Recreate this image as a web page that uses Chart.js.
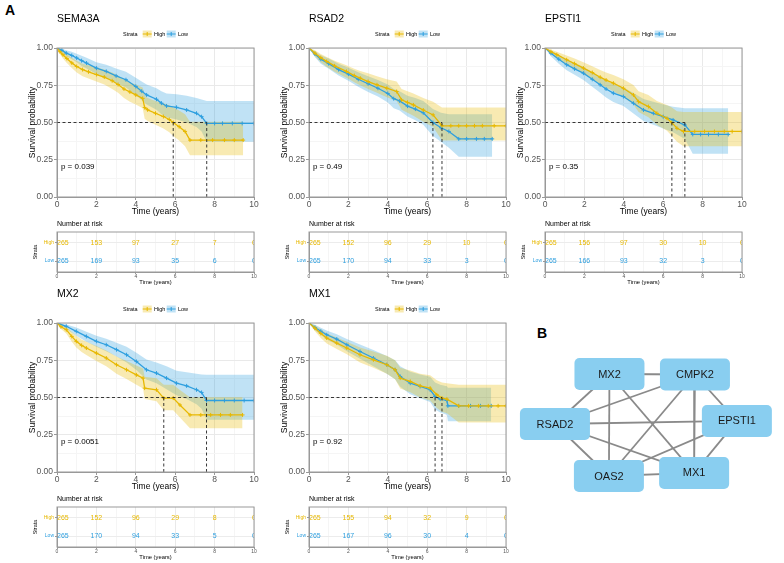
<!DOCTYPE html>
<html>
<head>
<meta charset="utf-8">
<script src="https://cdn.jsdelivr.net/npm/chart.js@4.4.0/dist/chart.umd.min.js"></script>
<style>
  body { margin: 0; width: 784px; height: 563px; background: #fff; position: relative; overflow: hidden;
         font-family: "Liberation Sans", Arial, sans-serif; }
  canvas { position: absolute; }
  .tag { position: absolute; font-weight: bold; font-size: 14px; line-height: 16px; color: #000; }
</style>
</head>
<body>
<div class="tag" style="left:5px;top:2px">A</div>
<div class="tag" style="left:537px;top:325px">B</div>
<script>
// Survival curves: rows are [time, survival, lower CI, upper CI]
const sema3aHigh = [[0,1,1,1],[0.15,0.975,0.96,0.99],[0.3,0.955,0.93,0.98],[0.5,0.93,0.9,0.96],[0.75,0.9,0.865,0.935],
  [1.0,0.876,0.835,0.915],[1.3,0.855,0.81,0.895],[1.6,0.84,0.795,0.885],[2.0,0.822,0.775,0.87],[2.4,0.805,0.755,0.855],
  [2.8,0.78,0.725,0.835],[3.1,0.755,0.7,0.815],[3.4,0.725,0.665,0.79],[3.7,0.705,0.64,0.77],[4.0,0.685,0.62,0.755],
  [4.35,0.662,0.595,0.735],[4.45,0.6,0.525,0.68],[4.6,0.585,0.51,0.665],[5.0,0.562,0.485,0.645],[5.4,0.54,0.46,0.63],
  [5.7,0.52,0.435,0.615],[5.9,0.5,0.41,0.6],[6.2,0.472,0.38,0.58],[6.5,0.44,0.34,0.555],[6.75,0.382,0.28,0.505],
  [7.3,0.382,0.28,0.505],[7.9,0.382,0.28,0.505],[8.5,0.382,0.28,0.505],[9.0,0.382,0.28,0.505],[9.45,0.382,0.28,0.505]];
const sema3aLow = [[0,1,1,1],[0.25,0.985,0.97,0.995],[0.47,0.966,0.945,0.985],[0.75,0.95,0.925,0.975],[1.0,0.933,0.905,0.962],
  [1.25,0.915,0.88,0.948],[1.5,0.899,0.862,0.935],[2.0,0.865,0.825,0.905],[2.5,0.843,0.8,0.887],[3.0,0.813,0.765,0.862],
  [3.5,0.787,0.735,0.84],[4.0,0.742,0.685,0.8],[4.3,0.71,0.65,0.775],[4.55,0.685,0.62,0.755],[5.05,0.656,0.585,0.73],
  [5.3,0.63,0.555,0.71],[5.56,0.611,0.535,0.695],[6.07,0.602,0.52,0.69],[6.58,0.584,0.5,0.68],[7.08,0.562,0.47,0.665],
  [7.34,0.539,0.44,0.655],[7.6,0.494,0.37,0.645],[8.0,0.494,0.37,0.645],[8.4,0.494,0.37,0.645],[8.9,0.494,0.37,0.645],
  [9.4,0.494,0.37,0.645],[10,0.494,0.37,0.645]];

const rsad2High = [[0,1,1,1],[0.3,0.965,0.945,0.985],[0.6,0.935,0.905,0.96],[0.9,0.91,0.875,0.94],[1.3,0.88,0.84,0.915],
  [1.9,0.843,0.8,0.885],[2.3,0.815,0.77,0.86],[2.6,0.798,0.75,0.845],[3.0,0.775,0.725,0.83],[3.45,0.753,0.7,0.81],
  [3.95,0.73,0.67,0.79],[4.45,0.708,0.645,0.775],[4.7,0.652,0.585,0.725],[5.0,0.635,0.565,0.71],[5.3,0.618,0.545,0.695],
  [5.8,0.584,0.505,0.665],[6.3,0.551,0.47,0.64],[6.75,0.478,0.38,0.6],[7.2,0.478,0.38,0.6],[7.6,0.478,0.38,0.6],
  [8.0,0.478,0.38,0.6],[8.4,0.478,0.38,0.6],[8.8,0.478,0.38,0.6],[9.4,0.478,0.38,0.6],[10,0.478,0.38,0.6]];
const rsad2Low = [[0,1,1,1],[0.3,0.96,0.94,0.98],[0.6,0.925,0.895,0.952],[1.0,0.895,0.86,0.93],[1.5,0.855,0.815,0.895],
  [2.0,0.825,0.78,0.867],[2.5,0.79,0.74,0.838],[3.0,0.76,0.705,0.81],[3.5,0.73,0.675,0.785],[4.0,0.695,0.635,0.755],
  [4.3,0.66,0.595,0.725],[4.6,0.645,0.58,0.71],[5.0,0.61,0.54,0.68],[5.4,0.59,0.515,0.665],[5.8,0.565,0.485,0.645],
  [6.29,0.5,0.41,0.59],[6.7,0.465,0.37,0.565],[7.1,0.44,0.33,0.555],[7.6,0.39,0.27,0.555],[8.0,0.39,0.27,0.555],
  [8.5,0.39,0.27,0.555],[8.9,0.39,0.27,0.555],[9.3,0.39,0.27,0.555]];

const epsti1High = [[0,1,1,1],[0.3,0.975,0.96,0.99],[0.6,0.955,0.93,0.975],[1.1,0.921,0.89,0.95],[1.5,0.895,0.86,0.93],
  [1.95,0.865,0.825,0.905],[2.4,0.835,0.79,0.878],[2.8,0.804,0.755,0.852],[3.1,0.785,0.735,0.835],[3.47,0.764,0.71,0.818],
  [3.98,0.73,0.67,0.79],[4.49,0.685,0.62,0.752],[4.75,0.64,0.57,0.71],[5.25,0.607,0.535,0.685],[5.68,0.562,0.485,0.645],
  [6.19,0.528,0.445,0.618],[6.44,0.499,0.41,0.6],[6.7,0.461,0.37,0.575],[7.03,0.44,0.34,0.57],[7.6,0.44,0.34,0.57],
  [8.1,0.44,0.34,0.57],[8.6,0.44,0.34,0.57],[9.1,0.44,0.34,0.57],[9.5,0.44,0.34,0.57],[10,0.44,0.34,0.57]];
const epsti1Low = [[0,1,1,1],[0.3,0.965,0.945,0.985],[0.7,0.925,0.895,0.955],[1.1,0.888,0.85,0.922],[1.5,0.86,0.82,0.9],
  [1.95,0.831,0.785,0.875],[2.4,0.79,0.74,0.838],[2.8,0.753,0.7,0.805],[3.1,0.725,0.668,0.78],[3.47,0.697,0.637,0.757],
  [3.98,0.674,0.61,0.737],[4.49,0.629,0.56,0.698],[5.0,0.584,0.51,0.658],[5.5,0.562,0.485,0.64],[6.0,0.539,0.46,0.62],
  [6.5,0.517,0.435,0.605],[7.1,0.483,0.39,0.595],[7.5,0.42,0.29,0.595],[7.9,0.42,0.29,0.595],[8.3,0.42,0.29,0.595],
  [8.8,0.42,0.29,0.595],[9.3,0.42,0.29,0.595]];

const mx2High = [[0,1,1,1],[0.2,0.975,0.96,0.99],[0.47,0.955,0.93,0.975],[0.75,0.91,0.875,0.94],[0.98,0.877,0.835,0.915],
  [1.25,0.85,0.805,0.89],[1.49,0.832,0.785,0.875],[2.0,0.798,0.745,0.845],[2.5,0.765,0.71,0.815],[3.02,0.72,0.66,0.775],
  [3.53,0.686,0.625,0.745],[4.03,0.652,0.585,0.715],[4.37,0.63,0.56,0.695],[4.45,0.563,0.49,0.64],[5.05,0.552,0.475,0.63],
  [5.42,0.496,0.415,0.585],[5.9,0.496,0.415,0.585],[6.24,0.45,0.365,0.55],[6.75,0.383,0.294,0.502],[7.3,0.383,0.294,0.502],
  [7.8,0.383,0.294,0.502],[8.3,0.383,0.294,0.502],[8.8,0.383,0.294,0.502],[9.42,0.383,0.294,0.502]];
const mx2Low = [[0,1,1,1],[0.47,0.978,0.96,0.99],[0.98,0.944,0.915,0.97],[1.49,0.91,0.875,0.942],[2.0,0.877,0.84,0.915],
  [2.5,0.854,0.81,0.895],[3.02,0.821,0.775,0.868],[3.53,0.787,0.735,0.84],[4.03,0.742,0.685,0.8],[4.54,0.686,0.62,0.755],
  [5.05,0.664,0.595,0.735],[5.56,0.63,0.555,0.71],[6.07,0.596,0.515,0.68],[6.58,0.578,0.49,0.67],[7.08,0.552,0.455,0.66],
  [7.34,0.534,0.425,0.655],[7.59,0.48,0.35,0.652],[8.0,0.48,0.35,0.652],[8.5,0.48,0.35,0.652],[9.0,0.48,0.35,0.652],
  [9.5,0.48,0.35,0.652],[10,0.48,0.35,0.652]];

const mx1High = [[0,1,1,1],[0.3,0.965,0.945,0.985],[0.6,0.93,0.9,0.958],[0.9,0.899,0.862,0.932],[1.41,0.865,0.825,0.902],
  [1.92,0.832,0.79,0.875],[2.59,0.787,0.735,0.835],[3.27,0.753,0.7,0.808],[3.95,0.72,0.66,0.78],[4.37,0.686,0.622,0.75],
  [4.63,0.63,0.56,0.7],[5.14,0.608,0.535,0.682],[5.64,0.578,0.5,0.66],[6.15,0.563,0.48,0.65],[6.49,0.518,0.43,0.615],
  [6.75,0.496,0.405,0.6],[7.0,0.489,0.395,0.595],[7.6,0.444,0.332,0.585],[8.1,0.444,0.332,0.585],[8.6,0.444,0.332,0.585],
  [9.1,0.444,0.332,0.585],[9.6,0.444,0.332,0.585],[10,0.444,0.332,0.585]];
const mx1Low = [[0,1,1,1],[0.3,0.97,0.952,0.988],[0.6,0.945,0.92,0.968],[0.9,0.921,0.89,0.95],[1.41,0.892,0.855,0.925],
  [1.92,0.854,0.81,0.893],[2.59,0.809,0.76,0.855],[3.27,0.765,0.71,0.818],[3.95,0.72,0.66,0.778],[4.37,0.686,0.622,0.75],
  [4.63,0.641,0.572,0.71],[5.14,0.596,0.522,0.672],[5.64,0.574,0.495,0.655],[6.15,0.552,0.47,0.64],[6.4,0.507,0.42,0.6],
  [6.66,0.489,0.4,0.585],[7.0,0.48,0.385,0.575],[7.05,0.444,0.34,0.565],[7.6,0.444,0.34,0.565],[8.2,0.444,0.34,0.565],
  [8.7,0.444,0.34,0.565],[9.25,0.444,0.34,0.565]];

// median survival times (High, Low)
const sema3aMedian = [5.9, 7.6];
const rsad2Median = [6.29, 6.75];
const epsti1Median = [6.44, 7.1];
const mx2Median = [5.42, 7.59];
const mx1Median = [6.4, 6.75];

// number at risk tables
const riskTimes = [0, 2, 4, 6, 8, 10];
const sema3aRiskHigh = [265, 153, 97, 27, 7, 0];
const sema3aRiskLow = [265, 169, 93, 35, 6, 0];
const rsad2RiskHigh = [265, 152, 96, 29, 10, 0];
const rsad2RiskLow = [265, 170, 94, 33, 3, 0];
const epsti1RiskHigh = [265, 156, 97, 30, 10, 0];
const epsti1RiskLow = [265, 166, 93, 32, 3, 0];
const mx2RiskHigh = [265, 152, 96, 29, 8, 0];
const mx2RiskLow = [265, 170, 94, 33, 5, 0];
const mx1RiskHigh = [265, 155, 94, 32, 9, 0];
const mx1RiskLow = [265, 167, 96, 30, 4, 0];

// network (panel B)
const nodeNames = ['MX2', 'CMPK2', 'RSAD2', 'EPSTI1', 'OAS2', 'MX1'];
const nodeX = [36.3, 67.5, 16.4, 82.8, 36.1, 67.2];
const nodeY = [80, 79.7, 50.6, 52.4, 20, 21.8];
const edges = [[0,1],[0,2],[0,4],[0,5],[1,2],[1,4],[1,5],[1,3],[2,3],[2,4],[2,5],[3,4],[3,5],[4,5]];

const FONT = '"Liberation Sans", Arial, sans-serif';
const HIGH = '#E7B800', LOW = '#2E9FDF';
const HIGH_BAND = 'rgba(231,184,0,0.3)', LOW_BAND = 'rgba(46,159,223,0.3)';
const PW = 197, PH = 149;
Chart.defaults.font.family = FONT;
Chart.defaults.animation = false;

const panels = [
  { gene: 'SEMA3A', left: 57, top: 48, high: sema3aHigh, low: sema3aLow, median: sema3aMedian, p: 'p = 0.039', riskHigh: sema3aRiskHigh, riskLow: sema3aRiskLow },
  { gene: 'RSAD2', left: 309, top: 48, high: rsad2High, low: rsad2Low, median: rsad2Median, p: 'p = 0.49', riskHigh: rsad2RiskHigh, riskLow: rsad2RiskLow },
  { gene: 'EPSTI1', left: 545, top: 48, high: epsti1High, low: epsti1Low, median: epsti1Median, p: 'p = 0.35', riskHigh: epsti1RiskHigh, riskLow: epsti1RiskLow },
  { gene: 'MX2', left: 57, top: 323, high: mx2High, low: mx2Low, median: mx2Median, p: 'p = 0.0051', riskHigh: mx2RiskHigh, riskLow: mx2RiskLow },
  { gene: 'MX1', left: 309, top: 323, high: mx1High, low: mx1Low, median: mx1Median, p: 'p = 0.92', riskHigh: mx1RiskHigh, riskLow: mx1RiskLow }
];

function addCanvas(left, top, w, h) {
  const cv = document.createElement('canvas');
  cv.width = w; cv.height = h;
  cv.style.left = left + 'px'; cv.style.top = top + 'px';
  document.body.appendChild(cv);
  return cv;
}

const isEven = v => Math.round(v) % 2 === 0;
const quarter = v => Math.abs(v * 4 - Math.round(v * 4)) < 1e-9;

function drawKey(ctx, x, y, color, band) {
  ctx.fillStyle = band;
  ctx.fillRect(x, y - 3.5, 9, 7);
  ctx.strokeStyle = color; ctx.lineWidth = 1;
  ctx.beginPath();
  ctx.moveTo(x, y); ctx.lineTo(x + 9, y);
  ctx.moveTo(x + 4.5, y - 2); ctx.lineTo(x + 4.5, y + 2);
  ctx.stroke();
}

function kmPanel(p) {
  const W = 57 + PW + 12, H = 48 + PH + 22;
  const cv = addCanvas(p.left - 57, p.top - 48, W, H);
  const series = (rows, k) => rows.map(r => ({ x: r[0], y: r[k] }));
  // read-off points joined directly: the fine KM steps blur into a slope at this size
  const curve = (rows, color) => ({
    data: series(rows, 1), borderColor: color, borderWidth: 1.3, fill: false, tension: 0,
    pointStyle: 'cross', pointRadius: c => c.dataIndex === 0 ? 0 : 2, pointBorderWidth: 1,
    pointBorderColor: color, pointBackgroundColor: color
  });
  const bound = (rows, k, fill, bg) => ({
    data: series(rows, k), borderWidth: 0, borderColor: 'rgba(0,0,0,0)', pointRadius: 0,
    tension: 0, fill: fill, backgroundColor: bg
  });

  new Chart(cv, {
    type: 'line',
    data: {
      datasets: [
        curve(p.high, HIGH),
        curve(p.low, LOW),
        bound(p.high, 3, '+1', HIGH_BAND),
        bound(p.high, 2, false, HIGH_BAND),
        bound(p.low, 3, '+1', LOW_BAND),
        bound(p.low, 2, false, LOW_BAND)
      ]
    },
    options: {
      responsive: false,
      maintainAspectRatio: false,
      events: [],
      layout: { padding: { left: 35, top: 48, right: 12, bottom: 10 } },
      plugins: { legend: { display: false }, tooltip: { enabled: false } },
      scales: {
        x: {
          type: 'linear', min: 0, max: 10,
          afterBuildTicks: s => { s.ticks = [0,1,2,3,4,5,6,7,8,9,10].map(v => ({ value: v })); },
          afterFit: s => { s.height = 12; },
          ticks: { autoSkip: false, maxRotation: 0, padding: 0, color: '#555', font: { size: 8.5 },
                   callback: v => isEven(v) ? String(v) : '' },
          grid: { color: c => isEven(c.tick.value) ? '#e9e9e9' : '#f5f5f5', tickLength: 3,
                  tickColor: c => isEven(c.tick.value) ? '#999' : 'rgba(0,0,0,0)' },
          border: { color: '#999' }
        },
        y: {
          type: 'linear', min: 0, max: 1,
          afterBuildTicks: s => { s.ticks = [0,0.125,0.25,0.375,0.5,0.625,0.75,0.875,1].map(v => ({ value: v })); },
          afterFit: s => { s.width = 22; },
          ticks: { padding: 1, color: '#555', font: { size: 8.5 },
                   callback: v => quarter(v) ? v.toFixed(2) : '' },
          grid: { color: c => quarter(c.tick.value) ? '#e9e9e9' : '#f5f5f5', tickLength: 3,
                  tickColor: c => quarter(c.tick.value) ? '#999' : 'rgba(0,0,0,0)' },
          border: { color: '#999' }
        }
      }
    },
    plugins: [{
      id: 'kmDecor',
      afterDatasetsDraw(chart) {
        const { ctx, chartArea: a, scales: { x, y } } = chart;
        const y5 = y.getPixelForValue(0.5), y0 = y.getPixelForValue(0);
        ctx.save();
        ctx.setLineDash([3, 2.5]);
        ctx.strokeStyle = '#222'; ctx.lineWidth = 0.9;
        ctx.beginPath();
        ctx.moveTo(x.getPixelForValue(0), y5);
        ctx.lineTo(x.getPixelForValue(Math.max(...p.median)), y5);
        p.median.forEach(m => {
          const xm = x.getPixelForValue(m);
          ctx.moveTo(xm, y5); ctx.lineTo(xm, y0);
        });
        ctx.stroke();
        ctx.setLineDash([]);
        ctx.strokeStyle = '#999'; ctx.lineWidth = 1;
        ctx.strokeRect(a.left, a.top, a.width, a.height);
        ctx.restore();
      },
      afterDraw(chart) {
        const { ctx, chartArea: a, scales: { x, y } } = chart;
        const cx = (a.left + a.right) / 2, cy = (a.top + a.bottom) / 2;
        ctx.save();
        ctx.fillStyle = '#000';
        ctx.textBaseline = 'middle';
        // title
        ctx.font = '10.5px ' + FONT;
        ctx.textAlign = 'left';
        ctx.fillText(p.gene, a.left, a.top - 29);
        // p value
        ctx.font = '8px ' + FONT;
        ctx.fillText(p.p, x.getPixelForValue(0.2), y.getPixelForValue(0.2));
        // axis titles
        ctx.font = '8.5px ' + FONT;
        ctx.textAlign = 'center';
        ctx.fillText('Time (years)', cx, a.bottom + 14.5);
        ctx.save();
        ctx.translate(a.left - 24, cy);
        ctx.rotate(-Math.PI / 2);
        ctx.fillText('Survival probability', 0, 0);
        ctx.restore();
        // legend
        const ly = a.top - 14;
        ctx.font = '5.5px ' + FONT;
        ctx.textAlign = 'left';
        ctx.fillStyle = '#000';
        ctx.fillText('Strata', cx - 32.5, ly);
        drawKey(ctx, cx - 12.8, ly, HIGH, HIGH_BAND);
        ctx.fillStyle = '#000';
        ctx.fillText('High', cx - 1.5, ly);
        drawKey(ctx, cx + 11.2, ly, LOW, LOW_BAND);
        ctx.fillStyle = '#000';
        ctx.fillText('Low', cx + 22.5, ly);
        ctx.restore();
      }
    }]
  });
}

function riskPanel(p) {
  const W = 57 + PW + 12, H = 72;
  const cv = addCanvas(p.left - 57, p.top + 170, W, H);
  new Chart(cv, {
    type: 'scatter',
    data: {
      datasets: [
        { data: riskTimes.map(t => ({ x: t, y: 2 })), pointRadius: 0, counts: p.riskHigh, textColor: HIGH },
        { data: riskTimes.map(t => ({ x: t, y: 1 })), pointRadius: 0, counts: p.riskLow, textColor: LOW }
      ]
    },
    options: {
      responsive: false,
      maintainAspectRatio: false,
      events: [],
      layout: { padding: { left: 41, top: 14, right: 12, bottom: 10 } },
      plugins: { legend: { display: false }, tooltip: { enabled: false } },
      scales: {
        x: {
          type: 'linear', min: 0, max: 10,
          afterBuildTicks: s => { s.ticks = [0,1,2,3,4,5,6,7,8,9,10].map(v => ({ value: v })); },
          afterFit: s => { s.height = 8; },
          ticks: { autoSkip: false, maxRotation: 0, padding: 0, color: '#555', font: { size: 5 },
                   callback: v => isEven(v) ? String(v) : '' },
          grid: { color: c => isEven(c.tick.value) ? '#e9e9e9' : '#f5f5f5', tickLength: 2,
                  tickColor: c => isEven(c.tick.value) ? '#999' : 'rgba(0,0,0,0)' },
          border: { color: '#999' }
        },
        y: {
          type: 'linear', min: 0.4, max: 2.6,
          afterBuildTicks: s => { s.ticks = [{ value: 1 }, { value: 2 }]; },
          afterFit: s => { s.width = 16; },
          ticks: { padding: 1, font: { size: 5 }, color: c => c.tick.value === 2 ? HIGH : LOW,
                   callback: v => v === 2 ? 'High' : 'Low' },
          grid: { color: '#ececec', tickLength: 2, tickColor: '#999' },
          border: { color: '#999' }
        }
      }
    },
    plugins: [{
      id: 'riskText',
      afterDatasetsDraw(chart) {
        const { ctx, chartArea: a } = chart;
        ctx.save();
        ctx.beginPath();
        ctx.rect(a.left, a.top, a.width, a.height);
        ctx.clip();
        ctx.font = '7px ' + FONT;
        ctx.textBaseline = 'middle';
        chart.data.datasets.forEach((ds, i) => {
          ctx.fillStyle = ds.textColor;
          chart.getDatasetMeta(i).data.forEach((pt, j) => {
            ctx.textAlign = j === 0 ? 'left' : 'center';
            ctx.fillText(String(ds.counts[j]), pt.x, pt.y);
          });
        });
        ctx.restore();
        ctx.save();
        ctx.strokeStyle = '#999'; ctx.lineWidth = 1;
        ctx.strokeRect(a.left, a.top, a.width, a.height);
        ctx.fillStyle = '#000';
        ctx.textBaseline = 'middle';
        ctx.font = '7px ' + FONT;
        ctx.textAlign = 'left';
        ctx.fillText('Number at risk', a.left, a.top - 8);
        ctx.font = '5.8px ' + FONT;
        ctx.textAlign = 'center';
        ctx.fillText('Time (years)', (a.left + a.right) / 2, a.bottom + 10.5);
        ctx.translate(a.left - 22, (a.top + a.bottom) / 2);
        ctx.rotate(-Math.PI / 2);
        ctx.font = '5.5px ' + FONT;
        ctx.fillText('Strata', 0, 0);
        ctx.restore();
      }
    }]
  });
}

panels.forEach(p => { kmPanel(p); riskPanel(p); });

// network of the hub genes
const netCanvas = addCanvas(510, 340, 274, 170);
new Chart(netCanvas, {
  type: 'scatter',
  data: {
    datasets: edges.map(e => ({
      data: [{ x: nodeX[e[0]], y: nodeY[e[0]] }, { x: nodeX[e[1]], y: nodeY[e[1]] }],
      showLine: true, borderColor: '#8a8a8a', borderWidth: 1.8, pointRadius: 0
    }))
  },
  options: {
    responsive: false,
    maintainAspectRatio: false,
    events: [],
    layout: { padding: 0 },
    plugins: { legend: { display: false }, tooltip: { enabled: false } },
    scales: {
      x: { type: 'linear', min: 0, max: 100, display: false },
      y: { type: 'linear', min: 0, max: 100, display: false }
    }
  },
  plugins: [{
    id: 'nodes',
    afterDatasetsDraw(chart) {
      const { ctx, scales: { x, y } } = chart;
      ctx.save();
      ctx.font = '11px ' + FONT;
      ctx.textAlign = 'center';
      ctx.textBaseline = 'middle';
      nodeNames.forEach((name, i) => {
        const px = x.getPixelForValue(nodeX[i]), py = y.getPixelForValue(nodeY[i]);
        ctx.fillStyle = '#89cef0';
        ctx.beginPath();
        ctx.roundRect(px - 35, py - 16, 70, 32, 5);
        ctx.fill();
        ctx.fillStyle = '#1a1a1a';
        ctx.fillText(name, px, py + 0.5);
      });
      ctx.restore();
    }
  }]
});
</script>
</body>
</html>
